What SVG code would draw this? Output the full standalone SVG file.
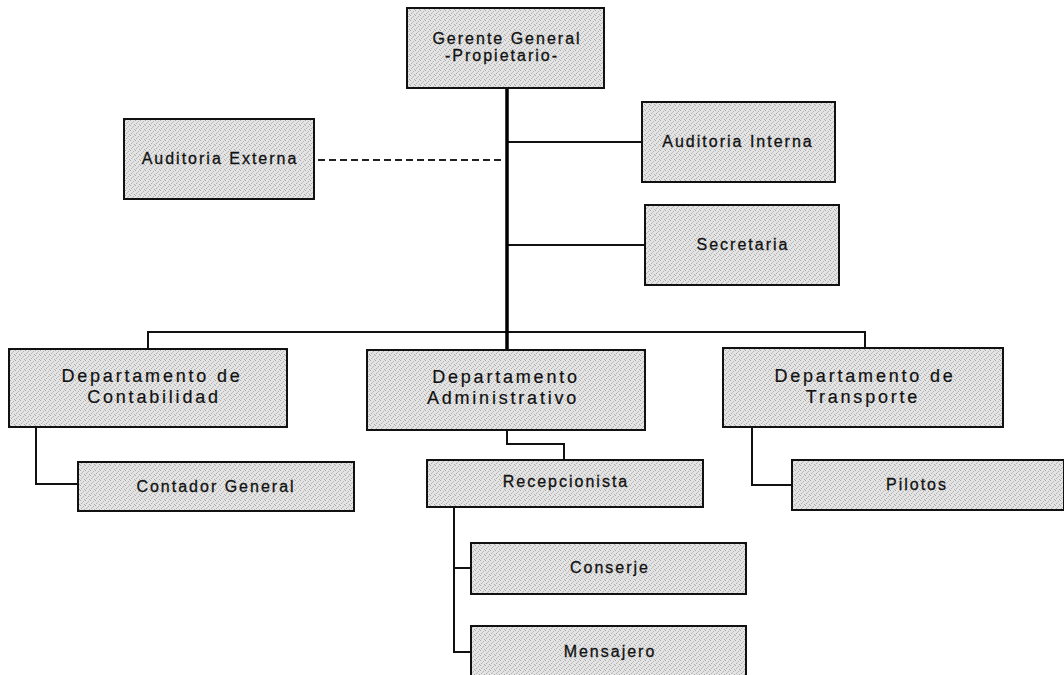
<svg xmlns="http://www.w3.org/2000/svg" width="1064" height="675" viewBox="0 0 1064 675">
  <defs>
    <!-- fine halftone-like grey fill for the boxes -->
    <pattern id="stipple" width="5" height="5" patternUnits="userSpaceOnUse">
      <rect width="5" height="5" fill="#e4e4e4"/>
      <rect x="0" y="0" width="1" height="1" fill="#a8a8a8"/>
      <rect x="3" y="1" width="1" height="1" fill="#b4b4b4"/>
      <rect x="1" y="3" width="1" height="1" fill="#b0b0b0"/>
      <rect x="4" y="4" width="1" height="1" fill="#ababab"/>
      <rect x="2" y="2" width="1" height="1" fill="#c2c2c2"/>
    </pattern>
    <style>
      .box { fill: url(#stipple); stroke: #111; stroke-width: 2; }
      .t { font-family: "Liberation Sans", Arial, sans-serif; font-size: 16px; letter-spacing: 2px; fill: #111; text-anchor: middle; stroke: #111; stroke-width: 0.3; }
      .tl { font-size: 18px; letter-spacing: 2.8px; stroke-width: 0.2; }
      .ln { fill: none; stroke: #111; stroke-width: 2; }
      .trunk { fill: none; stroke: #000; stroke-width: 3.5; }
      .dash { fill: none; stroke: #222; stroke-width: 2; stroke-dasharray: 7 4; }
    </style>
  </defs>
  <rect width="1064" height="675" fill="#fff"/>

  <!-- connectors -->
  <g id="connectors">
    <line class="dash" x1="318" y1="160" x2="505" y2="160"/>
    <line class="ln" x1="507" y1="142" x2="642" y2="142"/>
    <line class="ln" x1="507" y1="245" x2="645" y2="245"/>
    <path class="ln" d="M148 349 V332 H865 V348"/>
    <line class="trunk" x1="507" y1="88" x2="507" y2="350"/>
    <path class="ln" d="M507 430 V444 H564 V460"/>
    <path class="ln" d="M36 427 V484 H78"/>
    <path class="ln" d="M752 427 V485 H792"/>
    <path class="ln" d="M454 507 V652 H471"/>
    <line class="ln" x1="454" y1="568" x2="471" y2="568"/>
  </g>

  <g id="gerente">
    <rect class="box" x="407" y="8" width="197" height="80"/>
    <text class="t" x="507" y="44">Gerente General</text>
    <text class="t" x="502" y="61">-Propietario-</text>
  </g>

  <g id="auditoria-externa">
    <rect class="box" x="124" y="119" width="190" height="80"/>
    <text class="t" x="220" y="164">Auditoria Externa</text>
  </g>

  <g id="auditoria-interna">
    <rect class="box" x="642" y="102" width="193" height="80"/>
    <text class="t" x="738" y="147">Auditoria Interna</text>
  </g>

  <g id="secretaria">
    <rect class="box" x="645" y="205" width="194" height="80"/>
    <text class="t" x="743" y="250">Secretaria</text>
  </g>

  <g id="dep-contabilidad">
    <rect class="box" x="9" y="349" width="278" height="78"/>
    <text class="t tl" x="152" y="382">Departamento de</text>
    <text class="t tl" x="154" y="403">Contabilidad</text>
  </g>

  <g id="dep-administrativo">
    <rect class="box" x="367" y="350" width="278" height="80"/>
    <text class="t tl" x="506" y="383">Departamento</text>
    <text class="t tl" x="503" y="404">Administrativo</text>
  </g>

  <g id="dep-transporte">
    <rect class="box" x="723" y="348" width="280" height="79"/>
    <text class="t tl" x="865" y="382">Departamento de</text>
    <text class="t tl" x="863" y="403">Transporte</text>
  </g>

  <g id="contador">
    <rect class="box" x="78" y="462" width="276" height="49"/>
    <text class="t" x="216" y="492">Contador General</text>
  </g>

  <g id="recepcionista">
    <rect class="box" x="427" y="460" width="276" height="47"/>
    <text class="t" x="566" y="487">Recepcionista</text>
  </g>

  <g id="pilotos">
    <rect class="box" x="792" y="460" width="272" height="50"/>
    <text class="t" x="917" y="490">Pilotos</text>
  </g>

  <g id="conserje">
    <rect class="box" x="471" y="543" width="275" height="51"/>
    <text class="t" x="610" y="573">Conserje</text>
  </g>

  <g id="mensajero">
    <rect class="box" x="471" y="626" width="275" height="60"/>
    <text class="t" x="610" y="657">Mensajero</text>
  </g>
</svg>
